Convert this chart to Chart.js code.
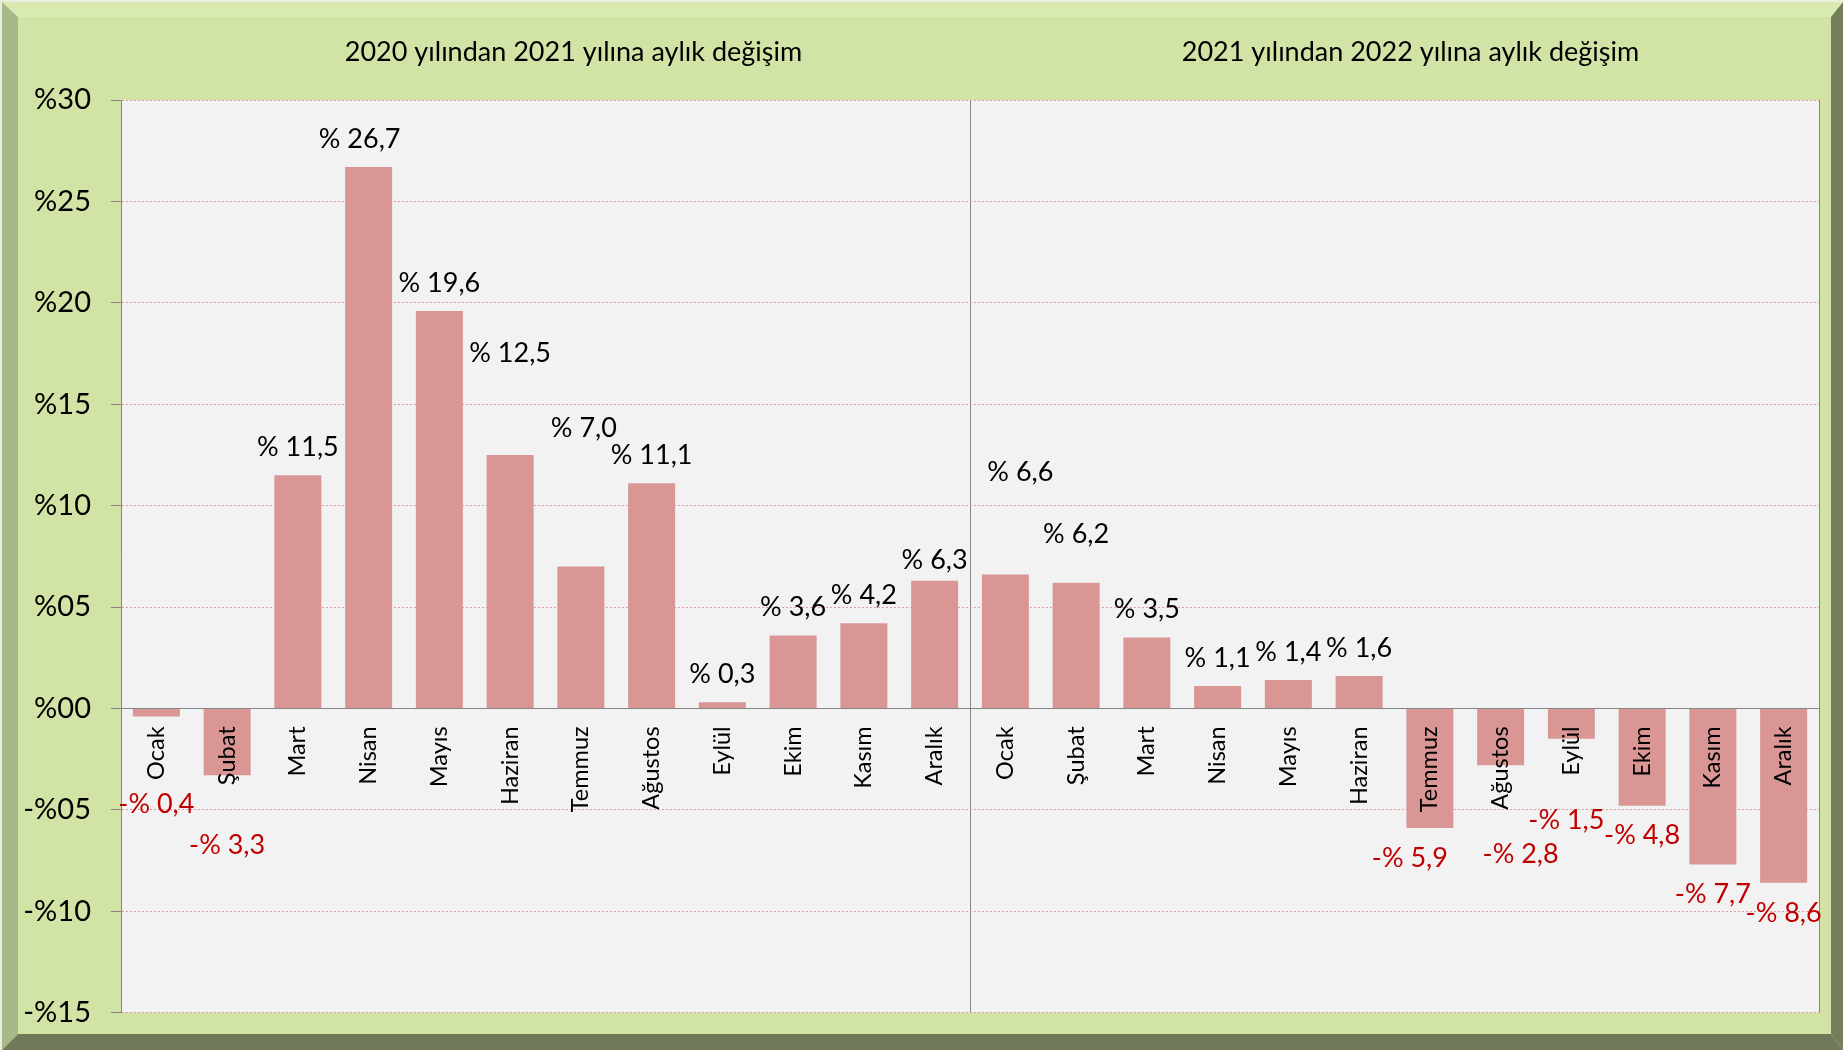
<!DOCTYPE html>
<html>
<head>
  <title>Aylık değişim</title>
  <style>
    body { margin: 0; background: #ffffff; }
    #wrap { width: 1843px; height: 1050px; }
  </style>
</head>
<body>
  <div id="wrap"><canvas id="chart" width="1843" height="1050"></canvas></div>

  <script src="https://cdn.jsdelivr.net/npm/chart.js"></script>
  <script>
    const months = ['Ocak', 'Şubat', 'Mart', 'Nisan', 'Mayıs', 'Haziran', 'Temmuz', 'Ağustos', 'Eylül', 'Ekim', 'Kasım', 'Aralık'];
    const change2021 = [-0.4, -3.3, 11.5, 26.7, 19.6, 12.5, 7.0, 11.1, 0.3, 3.6, 4.2, 6.3];
    const change2022 = [6.6, 6.2, 3.5, 1.1, 1.4, 1.6, -5.9, -2.8, -1.5, -4.8, -7.7, -8.6];
    const yTicks = [-15, -10, -5, 0, 5, 10, 15, 20, 25, 30];
    const panelTitles = ['2020 yılından 2021 yılına aylık değişim', '2021 yılından 2022 yılına aylık değişim'];

    const labels = months.concat(months);
    const values = change2021.concat(change2022);
    const FONT = 'Lato';
    const MONTH_SIZE = 23.5;

    function pctTick(v) {
      return (v < 0 ? '-' : '') + '%' + String(Math.abs(v)).padStart(2, '0');
    }
    function pctLabel(v) {
      return (v < 0 ? '-' : '') + '% ' + Math.abs(v).toFixed(1).replace('.', ',');
    }

    // cerceve ve arka plan
    const framePlugin = {
      id: 'frame',
      beforeDraw(chart) {
        const ctx = chart.ctx;
        const W = chart.width, H = chart.height;
        const L = 18, T = 17, R = W - 12, B = H - 16;
        ctx.save();
        ctx.fillStyle = '#e8eee0';
        ctx.fillRect(0, 0, W, H);
        const poly = (pts, color) => {
          ctx.beginPath();
          ctx.moveTo(pts[0][0], pts[0][1]);
          pts.slice(1).forEach(p => ctx.lineTo(p[0], p[1]));
          ctx.closePath();
          ctx.fillStyle = color;
          ctx.fill();
        };
        poly([[2, 2], [W, 2], [R, T], [L, T]], '#d9eab0');
        poly([[2, 2], [L, T], [L, B], [2, H]], '#a8b888');
        poly([[W, 2], [W, H], [R, B], [R, T]], '#737e5a');
        poly([[2, H], [L, B], [R, B], [W, H]], '#6f7a58');
        ctx.fillStyle = '#d1e3a5';
        ctx.fillRect(L, T, R - L, B - T);
        const a = chart.chartArea;
        ctx.fillStyle = '#f2f2f2';
        ctx.fillRect(a.left, a.top, a.right - a.left, a.bottom - a.top);
        ctx.restore();
      },
      afterDraw(chart) {
        const ctx = chart.ctx;
        const x = chart.scales.x;
        ctx.save();
        ctx.font = '27px ' + FONT;
        ctx.fillStyle = '#000000';
        ctx.textAlign = 'center';
        ctx.textBaseline = 'middle';
        ctx.fillText(panelTitles[0], x.getPixelForValue(5.5) + 28, 52);
        ctx.fillText(panelTitles[1], x.getPixelForValue(17.5) + 16, 52);
        ctx.restore();
      }
    };

    // bazi etiketler elle kaydirilmis (orijinal grafikteki gibi)
    const nudge = {
      0: [0, -6], 1: [0, 30], 3: [-9, 0], 5: [0, -74], 6: [3, -110], 11: [0, 8],
      12: [15, -74], 13: [0, -20], 18: [-20, 0], 19: [20, 15], 20: [-5, 15]
    };

    const valueLabels = {
      id: 'valueLabels',
      afterDraw(chart) {
        const ctx = chart.ctx;
        const meta = chart.getDatasetMeta(0);
        const zero = chart.scales.y.getPixelForValue(0);
        ctx.save();
        ctx.textAlign = 'center';
        ctx.textBaseline = 'middle';
        meta.data.forEach((bar, i) => {
          const v = values[i];
          ctx.font = MONTH_SIZE + 'px ' + FONT;
          const monthEnd = zero + 18 + ctx.measureText(labels[i]).width;
          let y;
          if (v >= 0) {
            y = bar.y - 28;
          } else {
            y = Math.max(bar.y, monthEnd) + 30;
          }
          const n = nudge[i] || [0, 0];
          ctx.font = '27px ' + FONT;
          ctx.fillStyle = v < 0 ? '#c00000' : '#000000';
          ctx.fillText(pctLabel(v), bar.x + n[0], y + n[1]);
        });
        ctx.restore();
      }
    };

    new Chart(document.getElementById('chart').getContext('2d'), {
      type: 'bar',
      data: {
        labels: labels,
        datasets: [{
          data: values,
          backgroundColor: '#d99694',
          borderWidth: 0,
          barPercentage: 0.664,
          categoryPercentage: 1
        }]
      },
      options: {
        responsive: false,
        animation: false,
        layout: { padding: { left: 0, top: 100, right: 24, bottom: 35 } },
        plugins: {
          legend: { display: false },
          tooltip: { enabled: false }
        },
        scales: {
          x: {
            position: { y: 0 },
            offset: true,
            grid: {
              offset: true,
              drawTicks: false,
              color: ctx => (ctx.index === 12 || ctx.index === undefined) ? '#868686' : 'rgba(0,0,0,0)'
            },
            border: { color: '#868686', width: 1 },
            ticks: {
              z: 1,
              autoSkip: false,
              minRotation: 90,
              maxRotation: 90,
              padding: 18,
              color: '#000000',
              font: { family: FONT, size: MONTH_SIZE }
            }
          },
          y: {
            min: -15,
            max: 30,
            afterFit: scale => { scale.width = 121; },
            afterBuildTicks: scale => { scale.ticks = yTicks.map(v => ({ value: v })); },
            grid: {
              color: ctx => (ctx.tick && ctx.tick.value === 0) ? 'rgba(0,0,0,0)' : '#e39aa2',
              tickColor: '#868686',
              tickLength: 10
            },
            border: { color: '#868686', width: 1, dash: [2, 2] },
            ticks: {
              padding: 20,
              color: '#000000',
              font: { family: FONT, size: 29 },
              callback: v => pctTick(v)
            }
          }
        }
      },
      plugins: [framePlugin, valueLabels]
    });
  </script>
</body>
</html>
